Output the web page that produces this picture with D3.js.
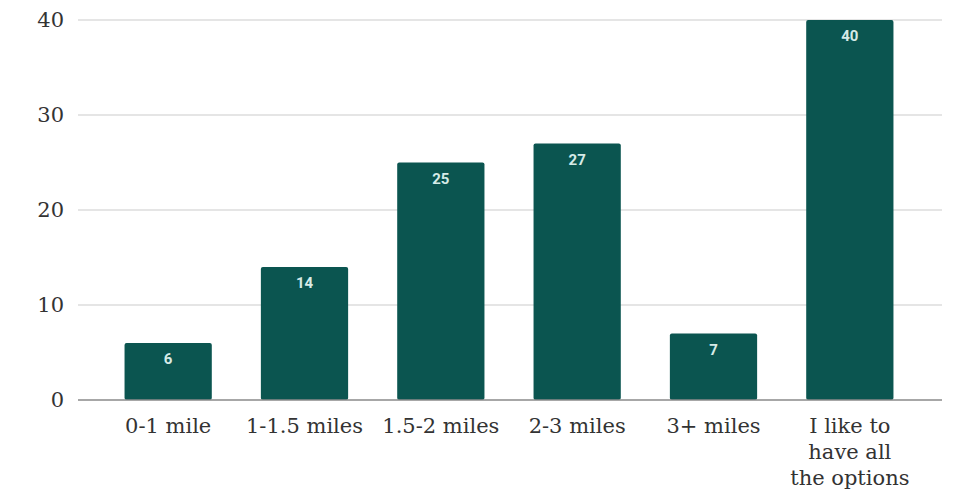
<!DOCTYPE html>
<html>
<head>
<meta charset="utf-8">
<script src="https://cdn.jsdelivr.net/npm/d3@7"></script>
<style>
  body { margin: 0; background: #fff; }
</style>
</head>
<body>
<div id="chart"></div>
<script>
// distances people are willing to travel
const categories = ["0-1 mile", "1-1.5 miles", "1.5-2 miles", "2-3 miles", "3+ miles", "I like to\nhave all\nthe options"];
const values = [6, 14, 25, 27, 7, 40];
const yTicks = [0, 10, 20, 30, 40];

const width = 955, height = 491;
const margin = {top: 20, right: 13, bottom: 91, left: 78};

const svg = d3.select("#chart")
  .append("svg")
    .attr("width", width)
    .attr("height", height);

const x = d3.scaleBand()
  .domain(categories)
  .range([100, 918])
  .paddingInner(0.36)
  .paddingOuter(0.18);

const y = d3.scaleLinear()
  .domain([0, 40])
  .range([height - margin.bottom, margin.top]);

// gridlines
svg.append("g")
  .selectAll("line")
  .data(yTicks.filter(d => d > 0))
  .join("line")
    .attr("x1", margin.left)
    .attr("x2", width - margin.right)
    .attr("y1", d => y(d))
    .attr("y2", d => y(d))
    .attr("stroke", "#dcdcdc")
    .attr("stroke-width", 1.5);

// y tick labels
svg.append("g")
  .selectAll("text")
  .data(yTicks)
  .join("text")
    .attr("x", 64)
    .attr("y", d => y(d))
    .attr("dy", "0.35em")
    .attr("text-anchor", "end")
    .attr("font-family", "DejaVu Serif, serif")
    .attr("font-size", 21)
    .attr("fill", "#333")
    .text(d => d);

// bars
svg.append("g")
  .selectAll("rect")
  .data(values)
  .join("rect")
    .attr("x", (d, i) => x(categories[i]))
    .attr("y", d => y(d))
    .attr("width", x.bandwidth())
    .attr("height", d => y(0) - y(d))
    .attr("rx", 2)
    .attr("fill", "#0b5550");

// value labels
svg.append("g")
  .selectAll("text")
  .data(values)
  .join("text")
    .attr("x", (d, i) => x(categories[i]) + x.bandwidth() / 2)
    .attr("y", d => y(d) + 21)
    .attr("text-anchor", "middle")
    .attr("font-family", "Roboto, sans-serif")
    .attr("font-weight", "bold")
    .attr("font-size", 15)
    .attr("fill", "#d6ebe7")
    .text(d => d);

// baseline
svg.append("line")
  .attr("x1", margin.left)
  .attr("x2", width - margin.right)
  .attr("y1", y(0))
  .attr("y2", y(0))
  .attr("stroke", "#8a8a8a")
  .attr("stroke-width", 1.5);

// category labels
const xl = svg.append("g")
  .selectAll("text")
  .data(categories)
  .join("text")
    .attr("x", d => x(d) + x.bandwidth() / 2)
    .attr("y", y(0) + 33)
    .attr("text-anchor", "middle")
    .attr("font-family", "DejaVu Serif, serif")
    .attr("font-size", 21)
    .attr("fill", "#333");

xl.selectAll("tspan")
  .data(d => d.split("\n"))
  .join("tspan")
    .attr("x", function() { return this.parentNode.getAttribute("x"); })
    .attr("dy", (d, i) => i === 0 ? 0 : 26)
    .text(d => d);
</script>
</body>
</html>
